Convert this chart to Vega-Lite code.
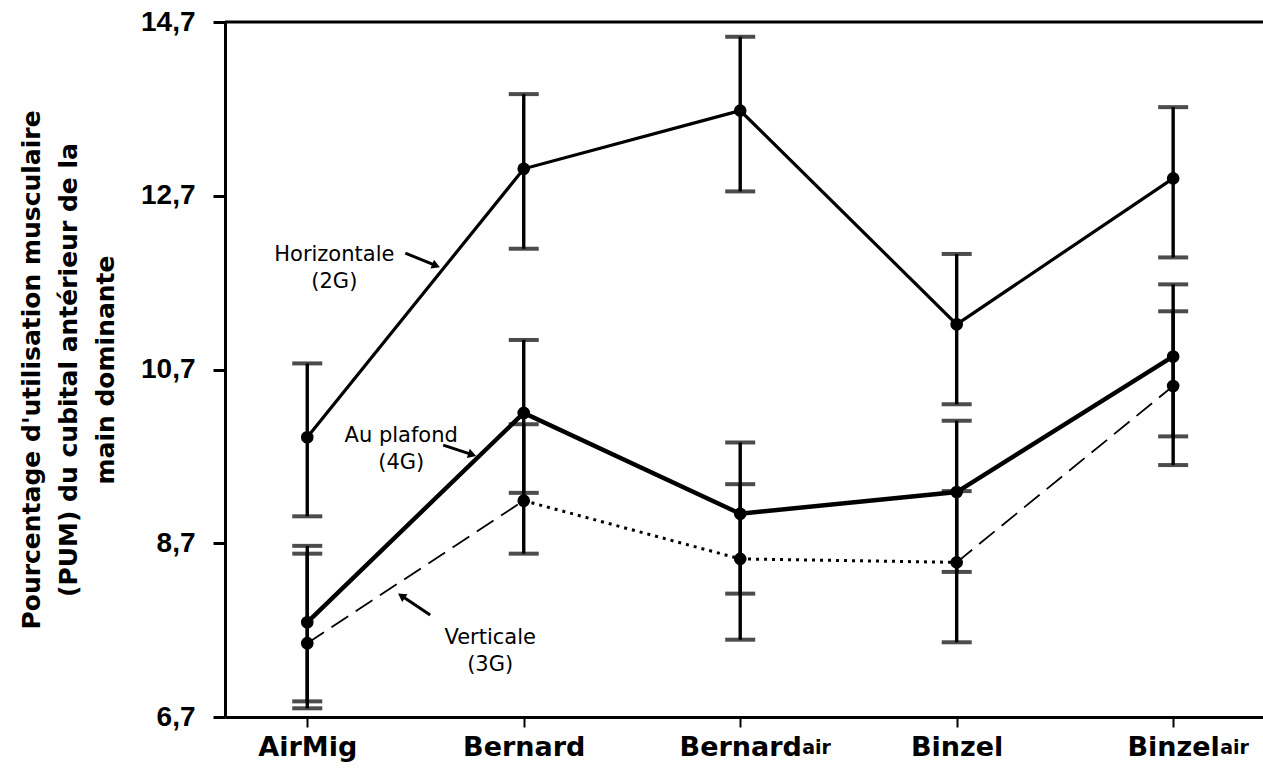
{
  "$schema": "https://vega.github.io/schema/vega-lite/v6.json",
  "width": 1038,
  "height": 695,
  "autosize": {"type": "none"},
  "padding": {"left": 225, "top": 22, "right": 0, "bottom": 52},
  "background": "white",
  "config": {"view": {"stroke": null}},
  "datasets": {
    "pts": [
      {"cond": "AirMig", "i": 0, "series": "Horizontale", "mean": 9.92, "lo": 9.01, "hi": 10.77},
      {"cond": "Bernard", "i": 1, "series": "Horizontale", "mean": 13.01, "lo": 12.09, "hi": 13.87},
      {"cond": "Bernardair", "i": 2, "series": "Horizontale", "mean": 13.68, "lo": 12.75, "hi": 14.53},
      {"cond": "Binzel", "i": 3, "series": "Horizontale", "mean": 11.22, "lo": 10.30, "hi": 12.03},
      {"cond": "Binzelair", "i": 4, "series": "Horizontale", "mean": 12.90, "lo": 11.99, "hi": 13.72},
      {"cond": "AirMig", "i": 0, "series": "Au plafond", "mean": 7.79, "lo": 6.88, "hi": 8.67},
      {"cond": "Bernard", "i": 1, "series": "Au plafond", "mean": 10.20, "lo": 9.28, "hi": 11.04},
      {"cond": "Bernardair", "i": 2, "series": "Au plafond", "mean": 9.04, "lo": 8.12, "hi": 9.86},
      {"cond": "Binzel", "i": 3, "series": "Au plafond", "mean": 9.29, "lo": 8.37, "hi": 10.11},
      {"cond": "Binzelair", "i": 4, "series": "Au plafond", "mean": 10.85, "lo": 9.93, "hi": 11.68},
      {"cond": "AirMig", "i": 0, "series": "Verticale", "mean": 7.55, "lo": 6.80, "hi": 8.58},
      {"cond": "Bernard", "i": 1, "series": "Verticale", "mean": 9.19, "lo": 8.58, "hi": 10.07},
      {"cond": "Bernardair", "i": 2, "series": "Verticale", "mean": 8.52, "lo": 7.59, "hi": 9.38},
      {"cond": "Binzel", "i": 3, "series": "Verticale", "mean": 8.48, "lo": 7.56, "hi": 9.30},
      {"cond": "Binzelair", "i": 4, "series": "Verticale", "mean": 10.51, "lo": 9.60, "hi": 11.37}
    ],
    "notes": [
      {"label": "Horizontale\n(2G)", "i": 0.125, "v": 12.02},
      {"label": "Au plafond\n(4G)", "i": 0.434, "v": 9.93},
      {"label": "Verticale\n(3G)", "i": 0.845, "v": 7.615}
    ],
    "arrows": [
      {"id": "h", "i": 0.453, "v": 12.04, "i2": 0.595, "v2": 11.895},
      {"id": "p", "i": 0.628, "v": 9.83, "i2": 0.762, "v2": 9.72},
      {"id": "v", "i": 0.568, "v": 7.874, "i2": 0.435, "v2": 8.095}
    ],
    "subs": [
      {"text": "air", "i": 2, "v": 6.275},
      {"text": "air", "i": 4, "v": 6.275}
    ]
  },
  "layer": [
    {
      "data": {"name": "pts"},
      "mark": {"type": "rule", "color": "black", "strokeWidth": 3.4},
      "encoding": {
        "x": {
          "field": "i", "type": "quantitative",
          "scale": {"domain": [-0.38, 4.415], "nice": false, "zero": false},
          "axis": {
            "title": "",
            "values": [0, 1, 2, 3, 4],
            "labelExpr": "['AirMig','Bernard','Bernard','Binzel','Binzel'][datum.value]",
            "labelFont": "DejaVu Sans", "labelFontWeight": "bold", "labelFontSize": 27,
            "labelColor": "black", "labelPadding": 7,
            "tickSize": 10, "tickWidth": 2, "tickColor": "black",
            "domainColor": "black", "domainWidth": 3, "grid": false
          }
        },
        "y": {
          "field": "lo", "type": "quantitative",
          "scale": {"domain": [6.7, 14.7], "nice": false, "zero": false},
          "axis": {
            "title": ["Pourcentage d'utilisation musculaire", "(PUM) du cubital antérieur de la", "main dominante"],
            "titleFont": "DejaVu Sans", "titleFontSize": 25, "titleFontWeight": "bold",
            "titleColor": "black", "titleLineHeight": 37, "titlePadding": 22,
            "values": [6.7, 8.7, 10.7, 12.7, 14.7],
            "labelExpr": "replace(format(datum.value, '.1f'), '.', ',')",
            "labelFont": "Liberation Sans", "labelFontWeight": "bold", "labelFontSize": 28,
            "labelColor": "black", "labelPadding": 18,
            "tickSize": 12, "tickWidth": 3, "tickColor": "black",
            "domainColor": "black", "domainWidth": 3, "grid": false
          }
        },
        "y2": {"field": "hi"}
      }
    },
    {
      "data": {"name": "pts"},
      "mark": {"type": "tick", "orient": "horizontal", "color": "black", "size": 30, "thickness": 4},
      "encoding": {
        "x": {"field": "i", "type": "quantitative", "scale": {"domain": [-0.38, 4.415], "nice": false, "zero": false}},
        "y": {"field": "lo", "type": "quantitative", "scale": {"domain": [6.7, 14.7], "nice": false, "zero": false}}
      }
    },
    {
      "data": {"name": "pts"},
      "mark": {"type": "tick", "orient": "horizontal", "color": "black", "size": 30, "thickness": 4},
      "encoding": {
        "x": {"field": "i", "type": "quantitative", "scale": {"domain": [-0.38, 4.415], "nice": false, "zero": false}},
        "y": {"field": "hi", "type": "quantitative", "scale": {"domain": [6.7, 14.7], "nice": false, "zero": false}}
      }
    },
    {
      "data": {"name": "pts"},
      "transform": [{"filter": "datum.series == 'Horizontale'"}],
      "mark": {"type": "line", "color": "black", "strokeWidth": 3.2},
      "encoding": {
        "x": {"field": "i", "type": "quantitative", "scale": {"domain": [-0.38, 4.415], "nice": false, "zero": false}},
        "y": {"field": "mean", "type": "quantitative", "scale": {"domain": [6.7, 14.7], "nice": false, "zero": false}}
      }
    },
    {
      "data": {"name": "pts"},
      "transform": [{"filter": "datum.series == 'Au plafond'"}],
      "mark": {"type": "line", "color": "black", "strokeWidth": 4.4},
      "encoding": {
        "x": {"field": "i", "type": "quantitative", "scale": {"domain": [-0.38, 4.415], "nice": false, "zero": false}},
        "y": {"field": "mean", "type": "quantitative", "scale": {"domain": [6.7, 14.7], "nice": false, "zero": false}}
      }
    },
    {
      "data": {"name": "pts"},
      "transform": [{"filter": "datum.series == 'Verticale' && datum.i <= 1"}],
      "mark": {"type": "line", "color": "black", "strokeWidth": 1.8, "strokeDash": [20, 9]},
      "encoding": {
        "x": {"field": "i", "type": "quantitative", "scale": {"domain": [-0.38, 4.415], "nice": false, "zero": false}},
        "y": {"field": "mean", "type": "quantitative", "scale": {"domain": [6.7, 14.7], "nice": false, "zero": false}}
      }
    },
    {
      "data": {"name": "pts"},
      "transform": [{"filter": "datum.series == 'Verticale' && datum.i >= 1 && datum.i <= 3"}],
      "mark": {"type": "line", "color": "black", "strokeWidth": 3, "strokeDash": [3, 5]},
      "encoding": {
        "x": {"field": "i", "type": "quantitative", "scale": {"domain": [-0.38, 4.415], "nice": false, "zero": false}},
        "y": {"field": "mean", "type": "quantitative", "scale": {"domain": [6.7, 14.7], "nice": false, "zero": false}}
      }
    },
    {
      "data": {"name": "pts"},
      "transform": [{"filter": "datum.series == 'Verticale' && datum.i >= 3"}],
      "mark": {"type": "line", "color": "black", "strokeWidth": 1.8, "strokeDash": [20, 9]},
      "encoding": {
        "x": {"field": "i", "type": "quantitative", "scale": {"domain": [-0.38, 4.415], "nice": false, "zero": false}},
        "y": {"field": "mean", "type": "quantitative", "scale": {"domain": [6.7, 14.7], "nice": false, "zero": false}}
      }
    },
    {
      "data": {"name": "pts"},
      "mark": {"type": "point", "shape": "circle", "filled": true, "color": "black", "opacity": 1, "size": 160},
      "encoding": {
        "x": {"field": "i", "type": "quantitative", "scale": {"domain": [-0.38, 4.415], "nice": false, "zero": false}},
        "y": {"field": "mean", "type": "quantitative", "scale": {"domain": [6.7, 14.7], "nice": false, "zero": false}}
      }
    },
    {
      "data": {"name": "notes"},
      "mark": {"type": "text", "color": "black", "font": "DejaVu Sans", "fontSize": 21, "align": "center", "baseline": "middle", "lineBreak": "\n", "lineHeight": 27},
      "encoding": {
        "x": {"field": "i", "type": "quantitative", "scale": {"domain": [-0.38, 4.415], "nice": false, "zero": false}},
        "y": {"field": "v", "type": "quantitative", "scale": {"domain": [6.7, 14.7], "nice": false, "zero": false}},
        "text": {"field": "label"}
      }
    },
    {
      "data": {"name": "arrows"},
      "mark": {"type": "rule", "color": "black", "strokeWidth": 3},
      "encoding": {
        "x": {"field": "i", "type": "quantitative", "scale": {"domain": [-0.38, 4.415], "nice": false, "zero": false}},
        "y": {"field": "v", "type": "quantitative", "scale": {"domain": [6.7, 14.7], "nice": false, "zero": false}},
        "x2": {"field": "i2"},
        "y2": {"field": "v2"}
      }
    },
    {
      "data": {"name": "arrows"},
      "transform": [{"filter": "datum.id == 'h'"}],
      "mark": {"type": "point", "shape": "triangle-right", "filled": true, "color": "black", "opacity": 1, "size": 90, "angle": 22},
      "encoding": {
        "x": {"field": "i2", "type": "quantitative", "scale": {"domain": [-0.38, 4.415], "nice": false, "zero": false}},
        "y": {"field": "v2", "type": "quantitative", "scale": {"domain": [6.7, 14.7], "nice": false, "zero": false}}
      }
    },
    {
      "data": {"name": "arrows"},
      "transform": [{"filter": "datum.id == 'p'"}],
      "mark": {"type": "point", "shape": "triangle-right", "filled": true, "color": "black", "opacity": 1, "size": 90, "angle": 18},
      "encoding": {
        "x": {"field": "i2", "type": "quantitative", "scale": {"domain": [-0.38, 4.415], "nice": false, "zero": false}},
        "y": {"field": "v2", "type": "quantitative", "scale": {"domain": [6.7, 14.7], "nice": false, "zero": false}}
      }
    },
    {
      "data": {"name": "arrows"},
      "transform": [{"filter": "datum.id == 'v'"}],
      "mark": {"type": "point", "shape": "triangle-right", "filled": true, "color": "black", "opacity": 1, "size": 90, "angle": 214},
      "encoding": {
        "x": {"field": "i2", "type": "quantitative", "scale": {"domain": [-0.38, 4.415], "nice": false, "zero": false}},
        "y": {"field": "v2", "type": "quantitative", "scale": {"domain": [6.7, 14.7], "nice": false, "zero": false}}
      }
    },
    {
      "data": {"name": "subs"},
      "transform": [{"filter": "datum.i == 2"}],
      "mark": {"type": "text", "color": "black", "font": "DejaVu Sans", "fontWeight": "bold", "fontSize": 19, "align": "left", "baseline": "alphabetic", "dx": 62},
      "encoding": {
        "x": {"field": "i", "type": "quantitative", "scale": {"domain": [-0.38, 4.415], "nice": false, "zero": false}},
        "y": {"field": "v", "type": "quantitative", "scale": {"domain": [6.7, 14.7], "nice": false, "zero": false}},
        "text": {"field": "text"}
      }
    },
    {
      "data": {"name": "subs"},
      "transform": [{"filter": "datum.i == 4"}],
      "mark": {"type": "text", "color": "black", "font": "DejaVu Sans", "fontWeight": "bold", "fontSize": 19, "align": "left", "baseline": "alphabetic", "dx": 47},
      "encoding": {
        "x": {"field": "i", "type": "quantitative", "scale": {"domain": [-0.38, 4.415], "nice": false, "zero": false}},
        "y": {"field": "v", "type": "quantitative", "scale": {"domain": [6.7, 14.7], "nice": false, "zero": false}},
        "text": {"field": "text"}
      }
    },
    {
      "data": {"values": [{}]},
      "mark": {"type": "rule", "color": "black", "strokeWidth": 3},
      "encoding": {
        "y": {"datum": 14.7, "type": "quantitative", "scale": {"domain": [6.7, 14.7], "nice": false, "zero": false}}
      }
    }
  ]
}
